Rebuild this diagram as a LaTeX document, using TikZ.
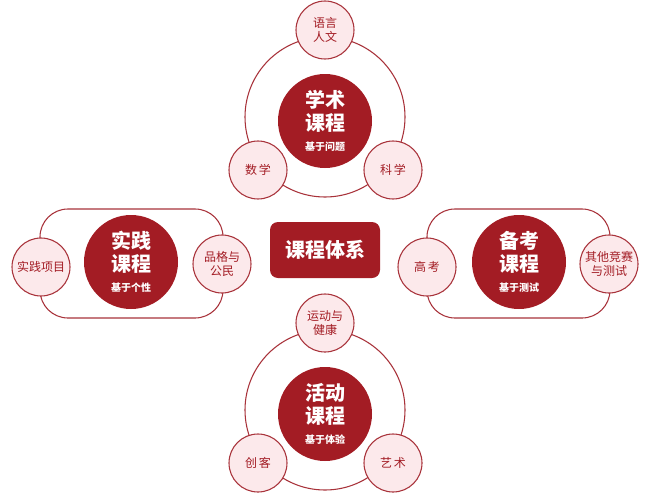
\documentclass[tikz,border=0pt]{standalone}
\usepackage{fontspec}
\setmainfont{Noto Sans CJK SC}
\definecolor{dred}{HTML}{A31C24}
\definecolor{lpink}{HTML}{FCE9EB}
\definecolor{edge}{HTML}{A8323A}
\begin{document}
\begin{tikzpicture}[x=0.75pt,y=-0.75pt,
  big/.style={circle,fill=dred,minimum size=94*0.75pt,inner sep=0pt,text=white,align=center,font=\bfseries\fontsize{15}{17}\selectfont},
  small/.style={circle,draw=edge,line width=0.8pt,fill=lpink,minimum size=58*0.75pt,inner sep=0pt,text=dred,align=center,font=\fontsize{9}{11}\selectfont},
  ringline/.style={draw=edge,line width=0.8pt}]
\useasboundingbox (0,0) rectangle (650,500);
\newcommand{\sub}[1]{\\[-2pt]{\fontsize{7.5}{9}\selectfont #1}}
% top
\draw[ringline] (325,117) circle (80*0.75pt);
\node[big] (t) at (325,121) {学术\\课程\sub{基于问题}};
\node[small] (t1) at (325,30) {语言\\人文};
\node[small] (t2) at (258,170) {数\,学};
\node[small] (t3) at (393,170) {科\,学};
% bottom
\draw[ringline] (325,410) circle (80*0.75pt);
\node[big] (b) at (325,414) {活动\\课程\sub{基于体验}};
\node[small] (b1) at (325,323) {运动与\\健康};
\node[small] (b2) at (258,463) {创\,客};
\node[small] (b3) at (393,463) {艺\,术};
% left
\draw[ringline,rounded corners=28*0.75pt] (40,209) rectangle (223,318);
\node[big] (l) at (131,262) {实践\\课程\sub{基于个性}};
\node[small] (l1) at (41,267) {实践项目};
\node[small] (l2) at (222,264) {品格与\\公民};
% right
\draw[ringline,rounded corners=28*0.75pt] (427,209) rectangle (610,318);
\node[big] (r) at (519,262) {备考\\课程\sub{基于测试}};
\node[small] (r1) at (427,267) {高\,考};
\node[small] (r2) at (609,264) {其他竞赛\\与测试};
% center
\node[fill=dred,rounded corners=8*0.75pt,minimum width=110*0.75pt,minimum height=56*0.75pt,text=white,font=\bfseries\fontsize{15}{17}\selectfont] (c) at (325,250) {课程体系};
\end{tikzpicture}
\end{document}
